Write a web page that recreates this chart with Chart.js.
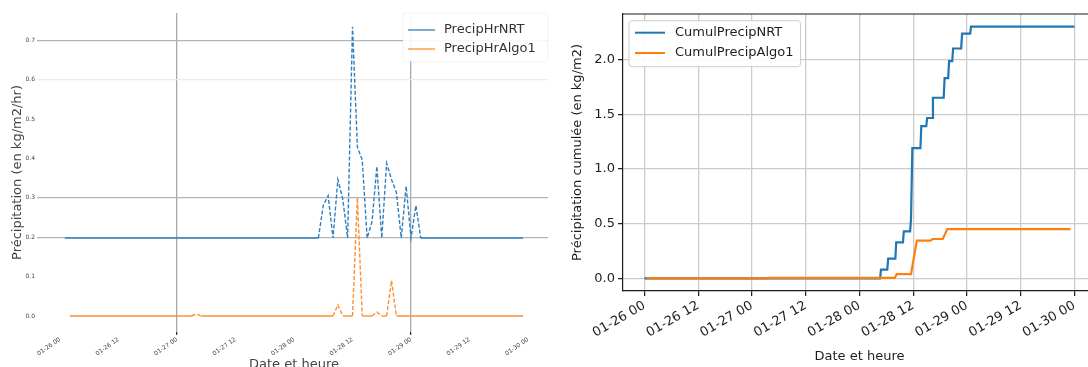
<!DOCTYPE html>
<html>
<head>
<meta charset="utf-8">
<script src="https://cdn.jsdelivr.net/npm/chart.js@4.4.0/dist/chart.umd.min.js"></script>
<style>
  html, body { margin: 0; padding: 0; background: #fff; overflow: hidden; width: 1088px; height: 367px; }
  #left { position: absolute; left: 0; top: 0; }
  #right { position: absolute; left: 550px; top: 0; }
</style>
</head>
<body>
<canvas id="left" width="550" height="375"></canvas>
<canvas id="right" width="560" height="367"></canvas>
<script>
Chart.defaults.font.family = "'DejaVu Sans', sans-serif"
Chart.defaults.color = '#1e1e1e'

// hourly steps, 01-26 00h -> 01-30 00h
const hours = Array.from({ length: 97 }, (_, i) => i)
const tickHours = [0, 12, 24, 36, 48, 60, 72, 84, 96]
const tickLabels = ['01-26 00', '01-26 12', '01-27 00', '01-27 12', '01-28 00', '01-28 12', '01-29 00', '01-29 12', '01-30 00']

// hourly precipitation (kg/m2/hr)
const nrtRate = [
  null, 0, 0, 0, 0, 0, 0, 0, 0, 0, 0, 0,
  0, 0, 0, 0, 0, 0, 0, 0, 0, 0, 0, 0,
  0, 0, 0, 0, 0, 0, 0, 0, 0, 0, 0, 0,
  0, 0, 0, 0, 0, 0, 0, 0, 0, 0, 0, 0,
  0, 0, 0, 0, 0, 0, 0.10, 0.13, 0, 0.18, 0.12, 0,
  0.65, 0.28, 0.24, 0, 0.05, 0.22, 0, 0.23, 0.18, 0.14, 0, 0.16,
  0, 0.10, 0, 0, 0, 0, 0, 0, 0, 0, 0, 0,
  0, 0, 0, 0, 0, 0, 0, 0, 0, 0, 0, 0,
  null
]
const algoRate = [
  null, null, 0, 0, 0, 0, 0, 0, 0, 0, 0, 0,
  0, 0, 0, 0, 0, 0, 0, 0, 0, 0, 0, 0,
  0, 0, 0, 0, 0.005, 0, 0, 0, 0, 0, 0, 0,
  0, 0, 0, 0, 0, 0, 0, 0, 0, 0, 0, 0,
  0, 0, 0, 0, 0, 0, 0, 0, 0, 0.028, 0, 0,
  0, 0.30, 0, 0, 0, 0.01, 0, 0, 0.09, 0, 0, 0,
  0, 0, 0, 0, 0, 0, 0, 0, 0, 0, 0, 0,
  0, 0, 0, 0, 0, 0, 0, 0, 0, 0, 0, 0,
  null
]
const rateTicks = [0, 0.1, 0.2, 0.3, 0.4, 0.5, 0.6, 0.7]
const rateTickLabels = ['0.0', '0.1', '0.2', '0.3', '0.4', '0.5', '0.6', '0.7']

// cumulated precipitation (kg/m2), read at the corners of the curves
const nrtCumulHours = [0, 52.6, 52.8, 54.2, 54.4, 56.0, 56.2, 57.7, 57.9, 59.3, 59.5, 59.8, 61.6, 61.8, 62.9,
  63.1, 64.2, 64.4, 66.8, 67.0, 67.8, 68.0, 68.7, 68.9, 70.7, 70.9, 72.7, 72.9, 96]
const nrtCumul = [0, 0, 0.08, 0.08, 0.18, 0.18, 0.33, 0.33, 0.43, 0.43, 0.54, 1.19, 1.19, 1.39, 1.39,
  1.465, 1.465, 1.65, 1.65, 1.83, 1.83, 1.985, 1.985, 2.10, 2.10, 2.236, 2.236, 2.30, 2.30]
const algoCumulHours = [0.5, 27.3, 27.6, 55.9, 56.3, 59.5, 60.8, 63.8, 64.3, 66.6, 67.6, 95.1]
const algoCumul = [0, 0, 0.005, 0.005, 0.04, 0.04, 0.345, 0.345, 0.36, 0.36, 0.45, 0.45]
const cumulTicks = [0, 0.5, 1, 1.5, 2]
const cumulTickLabels = ['0.0', '0.5', '1.0', '1.5', '2.0']

const blue = '#1f77b4'
const orange = '#ff7f0e'

const toPoints = (xs, ys) => xs.map((x, i) => ({ x, y: ys[i] }))
const fixedTicks = values => scale => { scale.ticks = values.map(value => ({ value })) }

// matplotlib-like legend box drawn inside the plot area
function boxLegend (o) {
  return {
    id: 'boxLegend',
    afterDatasetsDraw (chart) {
      const { ctx, chartArea } = chart
      const sets = chart.data.datasets
      const x = chartArea.left + o.dx
      const y = chartArea.top + o.dy
      ctx.save()
      ctx.font = o.font
      const textW = Math.max(...sets.map(d => ctx.measureText(d.label).width))
      const w = o.padX + o.lineLen + o.gap + textW + o.padRight
      const h = o.firstRow + o.rowH * (sets.length - 1) + o.lastPad
      ctx.beginPath()
      ctx.roundRect(x, y, w, h, 3)
      ctx.fillStyle = 'rgba(255,255,255,0.9)'
      ctx.fill()
      ctx.strokeStyle = o.border
      ctx.lineWidth = 1
      ctx.stroke()
      sets.forEach((d, i) => {
        const cy = y + o.firstRow + o.rowH * i
        ctx.beginPath()
        ctx.moveTo(x + o.padX, cy)
        ctx.lineTo(x + o.padX + o.lineLen, cy)
        ctx.strokeStyle = d.borderColor
        ctx.lineWidth = o.lineWidth
        ctx.stroke()
        ctx.fillStyle = o.color
        ctx.textBaseline = 'middle'
        ctx.fillText(d.label, x + o.padX + o.lineLen + o.gap, cy)
      })
      ctx.restore()
    }
  }
}

const topSpine = {
  id: 'topSpine',
  afterDatasetsDraw (chart) {
    const { ctx, chartArea } = chart
    ctx.save()
    ctx.strokeStyle = '#1a1a1a'
    ctx.lineWidth = 1.2
    ctx.beginPath()
    ctx.moveTo(chartArea.left, chartArea.top)
    ctx.lineTo(chartArea.right, chartArea.top)
    ctx.stroke()
    ctx.restore()
  }
}

const steepDash = { borderDash: c => c.p0.parsed.y !== c.p1.parsed.y ? [4, 2] : undefined }

/* eslint-disable no-new */
new Chart(document.getElementById('left'), {
  type: 'line',
  data: {
    datasets: [
      {
        label: 'PrecipHrNRT',
        data: toPoints(hours, nrtRate),
        yAxisID: 'yN',
        borderColor: '#2f7fbf',
        borderWidth: 1.4,
        pointRadius: 0,
        order: 1,
        segment: steepDash
      },
      {
        label: 'PrecipHrAlgo1',
        data: toPoints(hours, algoRate),
        yAxisID: 'y',
        borderColor: '#ff8f2e',
        borderWidth: 1.4,
        pointRadius: 0,
        order: 0,
        segment: steepDash
      }
    ]
  },
  options: {
    responsive: false,
    animation: false,
    events: [],
    layout: { padding: { top: 13, right: 2 } },
    plugins: { legend: { display: false }, tooltip: { enabled: false } },
    scales: {
      x: {
        type: 'linear',
        min: -4.1,
        max: 100.1,
        afterBuildTicks: fixedTicks(tickHours),
        afterFit: s => { s.height = 43 },
        ticks: {
          callback: (v, i) => tickLabels[i],
          font: { size: 6 },
          color: '#444',
          autoSkip: false,
          maxRotation: 35,
          minRotation: 35,
          padding: 1
        },
        grid: {
          color: c => (c.tick && (c.tick.value === 24 || c.tick.value === 72)) ? '#a8a8a8' : 'rgba(0,0,0,0)',
          tickColor: c => (c.tick && (c.tick.value === 24 || c.tick.value === 72)) ? '#333' : 'rgba(0,0,0,0)',
          lineWidth: 1.3,
          tickLength: 3
        },
        border: { display: false },
        title: { display: true, text: 'Date et heure', font: { size: 13 }, color: '#444', padding: { bottom: 3 } }
      },
      y: {
        min: -0.0406,
        max: 0.769,
        afterBuildTicks: fixedTicks(rateTicks),
        afterFit: s => { s.width = 40 },
        ticks: { callback: (v, i) => rateTickLabels[i], font: { size: 6 }, color: '#444', padding: 2 },
        grid: {
          color: c => {
            const v = c.tick ? Math.round(c.tick.value * 10) : -1
            if (v === 7 || v === 3 || v === 2) return '#b4b4b4'
            if (v === 6) return '#ececec'
            return 'rgba(0,0,0,0)'
          },
          lineWidth: 1.3,
          tickLength: 3
        },
        border: { display: false },
        title: { display: true, text: 'Précipitation (en kg/m2/hr)', font: { size: 13 }, color: '#444', padding: { top: 10 } }
      },
      yN: { display: false, min: -0.289, max: 0.692 }
    }
  },
  plugins: [boxLegend({
    dx: 363, dy: 0, padX: 5, padRight: 12, lineLen: 27, gap: 9, firstRow: 17, rowH: 19, lastPad: 12.7,
    font: "13px 'DejaVu Sans', sans-serif", color: '#333', border: 'rgba(0,0,0,0.05)', lineWidth: 1.3
  })]
})

new Chart(document.getElementById('right'), {
  type: 'line',
  data: {
    datasets: [
      {
        label: 'CumulPrecipNRT',
        data: toPoints(nrtCumulHours, nrtCumul),
        borderColor: blue,
        borderWidth: 2.2,
        pointRadius: 0,
        order: 1
      },
      {
        label: 'CumulPrecipAlgo1',
        data: toPoints(algoCumulHours, algoCumul),
        borderColor: orange,
        borderWidth: 2.2,
        pointRadius: 0,
        order: 0
      }
    ]
  },
  options: {
    responsive: false,
    animation: false,
    events: [],
    layout: { padding: { top: 14, right: 14 } },
    plugins: { legend: { display: false }, tooltip: { enabled: false } },
    scales: {
      x: {
        type: 'linear',
        min: -4.8,
        max: 100.8,
        afterBuildTicks: fixedTicks(tickHours),
        afterFit: s => { s.height = 76 },
        ticks: {
          callback: (v, i) => tickLabels[i],
          font: { size: 13 },
          autoSkip: false,
          maxRotation: 30,
          minRotation: 30,
          padding: 2
        },
        grid: { color: '#cbcbcb', lineWidth: 1.3, tickColor: '#1a1a1a', tickWidth: 1.2, tickLength: 5 },
        border: { color: '#1a1a1a', width: 1.2 },
        title: { display: true, text: 'Date et heure', font: { size: 13 }, padding: { bottom: 3 } }
      },
      y: {
        min: -0.115,
        max: 2.415,
        afterBuildTicks: fixedTicks(cumulTicks),
        afterFit: s => { s.width = 73 },
        ticks: { callback: (v, i) => cumulTickLabels[i], font: { size: 13 }, padding: 3 },
        grid: { color: '#cbcbcb', lineWidth: 1.3, tickColor: '#1a1a1a', tickWidth: 1.2, tickLength: 5 },
        border: { color: '#1a1a1a', width: 1.2 },
        title: { display: true, text: 'Précipitation cumulée (en kg/m2)', font: { size: 13 }, padding: { top: 20 } }
      }
    }
  },
  plugins: [topSpine, boxLegend({
    dx: 6, dy: 6.7, padX: 6, padRight: 7, lineLen: 30, gap: 10, firstRow: 12, rowH: 20.3, lastPad: 13.7,
    font: "13px 'DejaVu Sans', sans-serif", color: '#1e1e1e', border: '#cccccc', lineWidth: 2
  })]
})
</script>
</body>
</html>
